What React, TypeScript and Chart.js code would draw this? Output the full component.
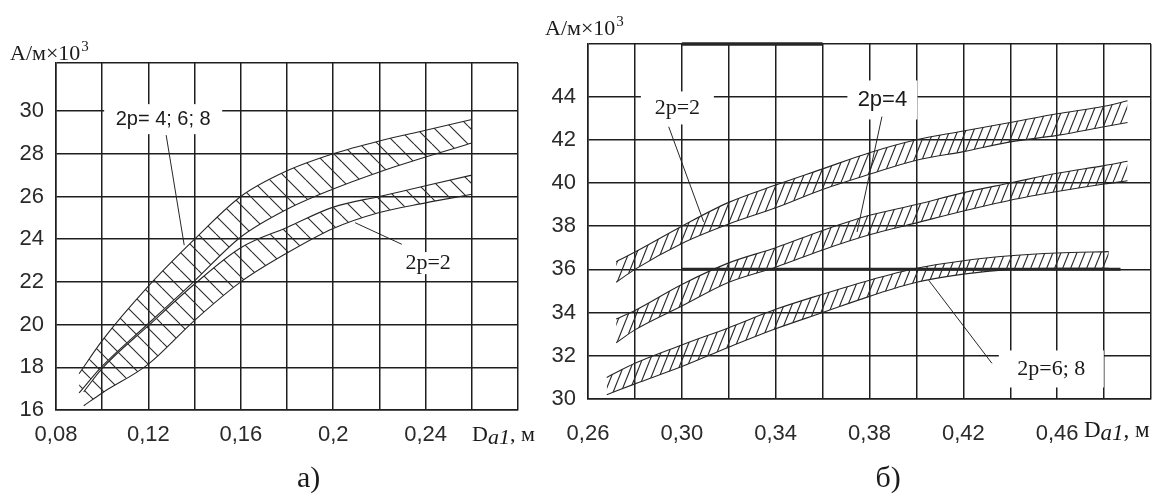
import React, { useEffect, useRef } from "react";
import { Chart, registerables } from "chart.js";

Chart.register(...registerables);

// ---------------- Panel а) ----------------
const xA468 = [0.09, 0.1, 0.12, 0.14, 0.16, 0.18, 0.2, 0.22, 0.24, 0.26];
const a468Top = [17.7, 19.25, 21.8, 24.0, 26.0, 27.2, 28.0, 28.6, 29.1, 29.6];
const a468Bottom = [16.8, 18.05, 20.05, 22.05, 24.1, 25.4, 26.35, 27.15, 27.85, 28.5];
const xA2 = [0.092, 0.1, 0.12, 0.14, 0.16, 0.18, 0.2, 0.22, 0.24, 0.26];
const a2Top = [16.85, 17.95, 19.95, 21.9, 23.6, 24.55, 25.5, 26.0, 26.5, 27.0];
const a2Bottom = [16.2, 16.8, 18.15, 20.2, 22.0, 23.35, 24.5, 25.25, 25.7, 26.1];
const xGridA = [0.08, 0.1, 0.12, 0.14, 0.16, 0.18, 0.2, 0.22, 0.24, 0.26, 0.28];
const xLabelsA = ["0,08", "", "0,12", "", "0,16", "", "0,2", "", "0,24", "", ""];
const yGridA = [16, 18, 20, 22, 24, 26, 28, 30, 32.25];
const yLabelsA = ["16", "18", "20", "22", "24", "26", "28", "30", ""];

// ---------------- Panel б) ----------------
const xB = [0.272, 0.28, 0.3, 0.32, 0.34, 0.36, 0.38, 0.4, 0.42, 0.44, 0.46, 0.48, 0.49];
const b2Top = [36.35, 36.8, 38.0, 39.1, 39.9, 40.65, 41.4, 42.0, 42.4, 42.8, 43.2, 43.55, 43.8];
const b2Bottom = [35.4, 36.0, 37.2, 38.1, 38.85, 39.7, 40.4, 41.05, 41.45, 41.9, 42.2, 42.6, 42.8];
const b4Top = [33.7, 34.1, 35.3, 36.3, 37.0, 37.8, 38.5, 39.0, 39.55, 40.0, 40.45, 40.8, 41.0];
const b4Bottom = [32.6, 33.2, 34.3, 35.4, 36.1, 36.9, 37.6, 38.15, 38.7, 39.2, 39.6, 39.95, 40.1];
const xB68 = [0.268, 0.28, 0.3, 0.32, 0.34, 0.36, 0.38, 0.4, 0.42, 0.44, 0.46, 0.482];
const b68Top = [31.0, 31.65, 32.5, 33.3, 34.15, 34.85, 35.5, 36.05, 36.4, 36.63, 36.76, 36.82];
const b68Bottom = [30.2, 30.7, 31.5, 32.4, 33.25, 34.0, 34.75, 35.4, 35.78, 36.0, 36.05, 36.05];
const heavyX36 = [0.3, 0.487];
const heavyY36 = [36, 36];
const heavyXTop = [0.3, 0.36];
const heavyYTop = [46.43, 46.43];
const xGridB = [0.26, 0.28, 0.3, 0.32, 0.34, 0.36, 0.38, 0.4, 0.42, 0.44, 0.46, 0.48, 0.5];
const xLabelsB = ["0,26", "", "0,30", "", "0,34", "", "0,38", "", "0,42", "", "0,46", "", ""];
const yGridB = [30, 32, 34, 36, 38, 40, 42, 44, 46.43];
const yLabelsB = ["30", "32", "34", "36", "38", "40", "42", "44", ""];

const INK = "#262626";
const GRID = "#1e1e1e";
const SANS = "'Liberation Sans', Arial, sans-serif";
const SERIF = "'Liberation Serif', 'Times New Roman', serif";

type Note = {
  text: string;
  font: string;
  at: [number, number];
  box: [number, number];
  from: [number, number];
  to: [number, number];
};

const notesA: Note[] = [
  { text: "2p= 4; 6; 8", font: `20px ${SANS}`, at: [0.1264, 29.62], box: [118, 30], from: [0.1277, 28.87], to: [0.1355, 23.72] },
  { text: "2p=2", font: `22px ${SERIF}`, at: [0.2411, 22.88], box: [62, 22], from: [0.2297, 23.76], to: [0.2095, 24.77] },
];
const notesB: Note[] = [
  { text: "2p=2", font: `22px ${SERIF}`, at: [0.2981, 43.47], box: [73, 33], from: [0.2944, 42.6], to: [0.3093, 38.2] },
  { text: "2p=4", font: `22px ${SANS}`, at: [0.3855, 43.84], box: [70, 39], from: [0.3853, 43.07], to: [0.3747, 37.73] },
  { text: "2p=6; 8", font: `22px ${SERIF}`, at: [0.4575, 31.39], box: [105, 37], from: [0.4322, 31.65], to: [0.4052, 35.5] },
];

function backHatch(size: number): any {
  const c = document.createElement("canvas");
  c.width = size;
  c.height = size;
  const g = c.getContext("2d");
  if (!g) return "rgba(0,0,0,0.15)";
  g.strokeStyle = "#2b2b2b";
  g.lineWidth = 1.1;
  g.beginPath();
  for (let k = -1; k <= 1; k++) {
    g.moveTo(k * size, 0);
    g.lineTo(k * size + size, size);
  }
  g.stroke();
  return g.createPattern(c, "repeat") || "rgba(0,0,0,0.15)";
}

function slashHatch(w: number, h: number): any {
  const c = document.createElement("canvas");
  c.width = w;
  c.height = h;
  const g = c.getContext("2d");
  if (!g) return "rgba(0,0,0,0.15)";
  g.strokeStyle = "#2b2b2b";
  g.lineWidth = 1.2;
  g.beginPath();
  for (let k = -1; k <= 1; k++) {
    g.moveTo(k * w, h);
    g.lineTo(k * w + w, 0);
  }
  g.stroke();
  return g.createPattern(c, "repeat") || "rgba(0,0,0,0.15)";
}

const pts = (xs: number[], ys: number[]) => xs.map((x, i) => ({ x, y: ys[i] }));

function curve(xs: number[], ys: number[], fill: any = false, bg: any = "transparent", width = 1.1, clip: any = undefined) {
  const d: any = {
    data: pts(xs, ys),
    borderColor: INK,
    borderWidth: width,
    pointRadius: 0,
    fill,
    backgroundColor: bg,
    cubicInterpolationMode: "monotone",
  };
  if (clip !== undefined) d.clip = clip;
  return d;
}

type Spec = {
  width: number;
  height: number;
  area: { left: number; top: number; right: number; bottom: number };
  xMin: number;
  xMax: number;
  xGrid: number[];
  xLabels: string[];
  xPad: number;
  yMin: number;
  yMax: number;
  yGrid: number[];
  yLabels: string[];
  notes: Note[];
  yTitle: { dx: number; dy: number; size: number };
  xTitle: { dx: number; dy: number; size: number };
  caption: { text: string; dx: number; baseline: number };
};

function makeDecor(spec: Spec) {
  return {
    id: "decor",
    afterDatasetsDraw(chart: any) {
      const { ctx, chartArea } = chart;
      const xs = chart.scales.x;
      const ys = chart.scales.y;
      ctx.save();
      for (const n of spec.notes) {
        const cx = xs.getPixelForValue(n.at[0]);
        const cy = ys.getPixelForValue(n.at[1]);
        ctx.fillStyle = "#ffffff";
        ctx.fillRect(cx - n.box[0] / 2, cy - n.box[1] / 2, n.box[0], n.box[1]);
        ctx.strokeStyle = INK;
        ctx.lineWidth = 1;
        ctx.beginPath();
        ctx.moveTo(xs.getPixelForValue(n.from[0]), ys.getPixelForValue(n.from[1]));
        ctx.lineTo(xs.getPixelForValue(n.to[0]), ys.getPixelForValue(n.to[1]));
        ctx.stroke();
        ctx.fillStyle = "#1a1a1a";
        ctx.font = n.font;
        ctx.textAlign = "center";
        ctx.textBaseline = "middle";
        ctx.fillText(n.text, cx, cy);
      }
      // y-axis title
      const yt = spec.yTitle;
      ctx.fillStyle = "#1a1a1a";
      ctx.textAlign = "left";
      ctx.textBaseline = "alphabetic";
      ctx.font = `${yt.size}px ${SERIF}`;
      const tx = chartArea.left + yt.dx;
      const ty = chartArea.top + yt.dy;
      const main = "A/м×10";
      ctx.fillText(main, tx, ty);
      const w = ctx.measureText(main).width;
      ctx.font = `${Math.round(yt.size * 0.68)}px ${SERIF}`;
      ctx.fillText("3", tx + w + 1, ty - yt.size * 0.42);
      // x-axis title
      const xt = spec.xTitle;
      let px = chartArea.right + xt.dx;
      const py = chartArea.bottom + xt.dy;
      ctx.font = `${xt.size}px ${SERIF}`;
      ctx.fillText("D", px, py);
      px += ctx.measureText("D").width;
      ctx.font = `italic ${xt.size}px ${SERIF}`;
      ctx.fillText("a1", px, py + 3);
      px += ctx.measureText("a1").width;
      ctx.font = `${xt.size}px ${SERIF}`;
      ctx.fillText(", м", px, py);
      // caption
      ctx.font = `30px ${SERIF}`;
      ctx.fillText(spec.caption.text, (chartArea.left + chartArea.right) / 2 + spec.caption.dx, spec.caption.baseline);
      ctx.restore();
    },
  };
}

function build(canvas: HTMLCanvasElement, spec: Spec, datasets: any[]) {
  const tickFont = { family: SANS, size: 22 };
  return new Chart(canvas, {
    type: "line",
    data: { datasets },
    options: {
      animation: false,
      responsive: false,
      events: [],
      layout: {
        padding: { left: 0, top: spec.area.top, right: spec.width - spec.area.right, bottom: 0 },
      },
      plugins: { legend: { display: false }, tooltip: { enabled: false } },
      scales: {
        x: {
          type: "linear",
          min: spec.xMin,
          max: spec.xMax,
          afterBuildTicks: (s: any) => {
            s.ticks = spec.xGrid.map((v) => ({ value: v }));
          },
          afterFit: (s: any) => {
            s.height = spec.height - spec.area.bottom;
          },
          ticks: {
            autoSkip: false,
            maxRotation: 0,
            padding: spec.xPad,
            font: tickFont,
            color: "#2a2a2a",
            callback: (_v: any, i: number) => spec.xLabels[i] ?? "",
          },
          grid: { color: GRID, lineWidth: 1.5, drawTicks: false },
          border: { color: GRID, width: 1.5 },
        },
        y: {
          type: "linear",
          min: spec.yMin,
          max: spec.yMax,
          afterBuildTicks: (s: any) => {
            s.ticks = spec.yGrid.map((v) => ({ value: v }));
          },
          afterFit: (s: any) => {
            s.width = spec.area.left;
          },
          ticks: {
            padding: 12,
            font: tickFont,
            color: "#2a2a2a",
            callback: (_v: any, i: number) => spec.yLabels[i] ?? "",
          },
          grid: { color: GRID, lineWidth: 1.5, drawTicks: false },
          border: { color: GRID, width: 1.5 },
        },
      },
    } as any,
    plugins: [makeDecor(spec) as any],
  });
}

const specA: Spec = {
  width: 560,
  height: 497,
  area: { left: 56, top: 63, right: 518, bottom: 410 },
  xMin: 0.08,
  xMax: 0.28,
  xGrid: xGridA,
  xLabels: xLabelsA,
  xPad: 12,
  yMin: 16,
  yMax: 32.25,
  yGrid: yGridA,
  yLabels: yLabelsA,
  notes: notesA,
  yTitle: { dx: -46, dy: -3, size: 22 },
  xTitle: { dx: -46, dy: 31, size: 22 },
  caption: { text: "а)", dx: 10, baseline: 487 },
};

const specB: Spec = {
  width: 645,
  height: 497,
  area: { left: 58, top: 44, right: 621, bottom: 399 },
  xMin: 0.26,
  xMax: 0.5,
  xGrid: xGridB,
  xLabels: xLabelsB,
  xPad: 22,
  yMin: 30,
  yMax: 46.43,
  yGrid: yGridB,
  yLabels: yLabelsB,
  notes: notesB,
  yTitle: { dx: -43, dy: -9, size: 22 },
  xTitle: { dx: -67, dy: 38, size: 23 },
  caption: { text: "б)", dx: 6, baseline: 487 },
};

export default function App() {
  const refA = useRef<HTMLCanvasElement | null>(null);
  const refB = useRef<HTMLCanvasElement | null>(null);

  useEffect(() => {
    if (!refA.current || !refB.current) return;
    const hatchA = backHatch(18);
    const hatchB = slashHatch(8, 20);
    const chartA = build(refA.current, specA, [
      curve(xA468, a468Top, "+1", hatchA),
      curve(xA468, a468Bottom),
      curve(xA2, a2Top, "+1", hatchA),
      curve(xA2, a2Bottom),
    ]);
    const chartB = build(refB.current, specB, [
      curve(xB, b2Top, "+1", hatchB),
      curve(xB, b2Bottom),
      curve(xB, b4Top, "+1", hatchB),
      curve(xB, b4Bottom),
      curve(xB68, b68Top, "+1", hatchB),
      curve(xB68, b68Bottom),
      curve(heavyX36, heavyY36, false, "transparent", 3, false),
      curve(heavyXTop, heavyYTop, false, "transparent", 3.5, false),
    ]);
    return () => {
      chartA.destroy();
      chartB.destroy();
    };
  }, []);

  return (
    <div style={{ position: "fixed", left: 0, top: 0, width: 1175, height: 497, background: "#ffffff", overflow: "hidden" }}>
      <canvas ref={refA} width={560} height={497} style={{ position: "absolute", left: 0, top: 0, width: 560, height: 497 }} />
      <canvas ref={refB} width={645} height={497} style={{ position: "absolute", left: 530, top: 0, width: 645, height: 497 }} />
    </div>
  );
}
